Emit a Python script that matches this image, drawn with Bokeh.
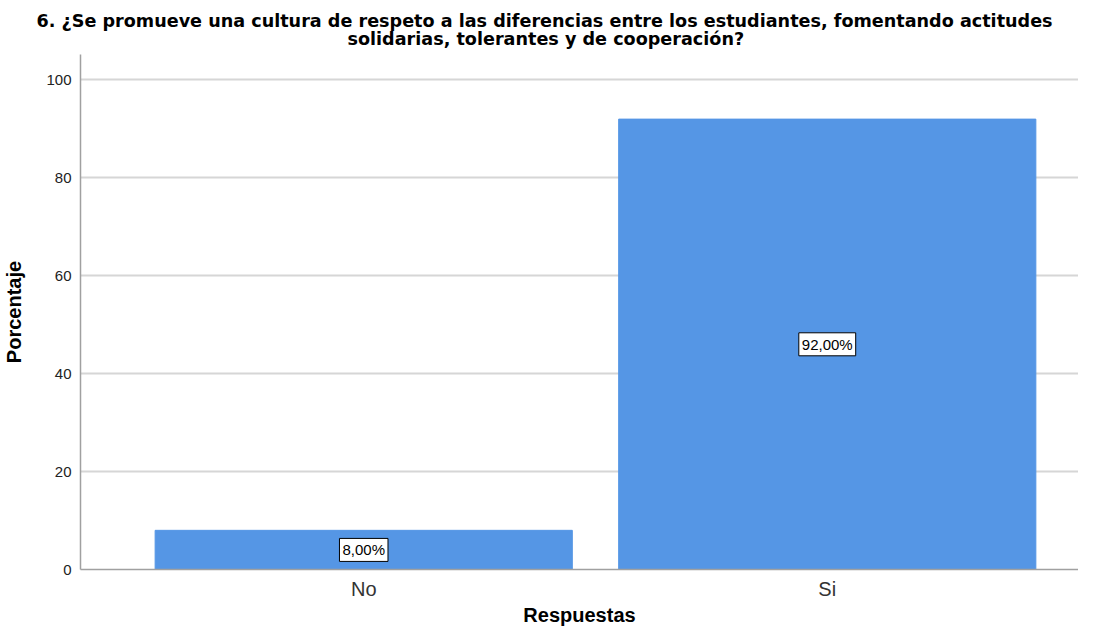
from bokeh.plotting import figure
from bokeh.models import Range1d, ColumnDataSource, Label, FixedTicker, Title
from bokeh.embed import file_html
from bokeh.resources import INLINE

categories = ["No", "Si"]
values = [8.0, 92.0]
value_labels = ["8,00%", "92,00%"]
y_ticks = [0, 20, 40, 60, 80, 100]

title_lines = ["6. ¿Se promueve una cultura de respeto a las diferencias entre los estudiantes, fomentando actitudes",
               "solidarias, tolerantes y de cooperación?"]

xs = [i + 1 for i in range(len(categories))]
src = ColumnDataSource(dict(x=xs, top=values))

W, H = 1078, 628
TOP = 54

p = figure(width=W, height=H, output_backend="svg", toolbar_location=None, title=None,
           x_range=Range1d(0.389, 2.542), y_range=Range1d(0, 105.2),
           min_border_left=0, min_border_right=0, min_border_top=TOP, min_border_bottom=0)

p.vbar(x="x", top="top", width=0.9, source=src, fill_color="#5596e5", line_color="#5596e5")

for x, v, lab in zip(xs, values, value_labels):
    p.add_layout(Label(x=x, y=v / 2, text=lab, text_align="center", text_baseline="middle",
                       text_font="Liberation Sans", text_font_size="15px", text_color="#000000",
                       background_fill_color="white", border_line_color="#000000", border_line_width=1,
                       padding=3))

# title: two lines, the second one nearest to the plot
for line, off, so in [(title_lines[1], 267, 11.8), (title_lines[0], -44, -20.4)]:
    p.add_layout(Title(text=line, align="left", offset=off, standoff=so,
                       text_font="DejaVu Sans", text_font_size="17.6px", text_font_style="bold",
                       text_color="#000000"), "above")

p.xaxis.ticker = FixedTicker(ticks=xs)
p.xaxis.major_label_overrides = {x: c for x, c in zip(xs, categories)}
p.yaxis.ticker = FixedTicker(ticks=y_ticks)

for ax in (p.xaxis[0], p.yaxis[0]):
    ax.axis_line_color = "#a0a0a0"
    ax.axis_line_width = 1.5
    ax.major_tick_line_color = None
    ax.major_tick_out = 0
    ax.major_tick_in = 0
    ax.minor_tick_line_color = None
    ax.minor_tick_out = 0
    ax.axis_label_text_font = "Liberation Sans"
    ax.axis_label_text_font_style = "bold"
    ax.axis_label_text_font_size = "20px"
    ax.axis_label_text_color = "#000000"
    ax.major_label_text_font = "Liberation Sans"

p.xaxis.axis_label = "Respuestas"
p.yaxis.axis_label = "Porcentaje"
p.xaxis.major_label_text_font_size = "20px"
p.xaxis.major_label_text_color = "#333333"
p.yaxis.major_label_text_font_size = "15px"
p.yaxis.major_label_text_color = "#222222"
p.xaxis.major_label_standoff = 8
p.xaxis.axis_label_standoff = 1
p.yaxis.major_label_standoff = 9
p.yaxis.axis_label_standoff = 18

p.xgrid.grid_line_color = None
p.ygrid.grid_line_color = "#d6d6d6"
p.ygrid.grid_line_width = 2
p.outline_line_color = None
p.background_fill_color = "white"

open("out.html", "w").write(file_html(p, INLINE))
